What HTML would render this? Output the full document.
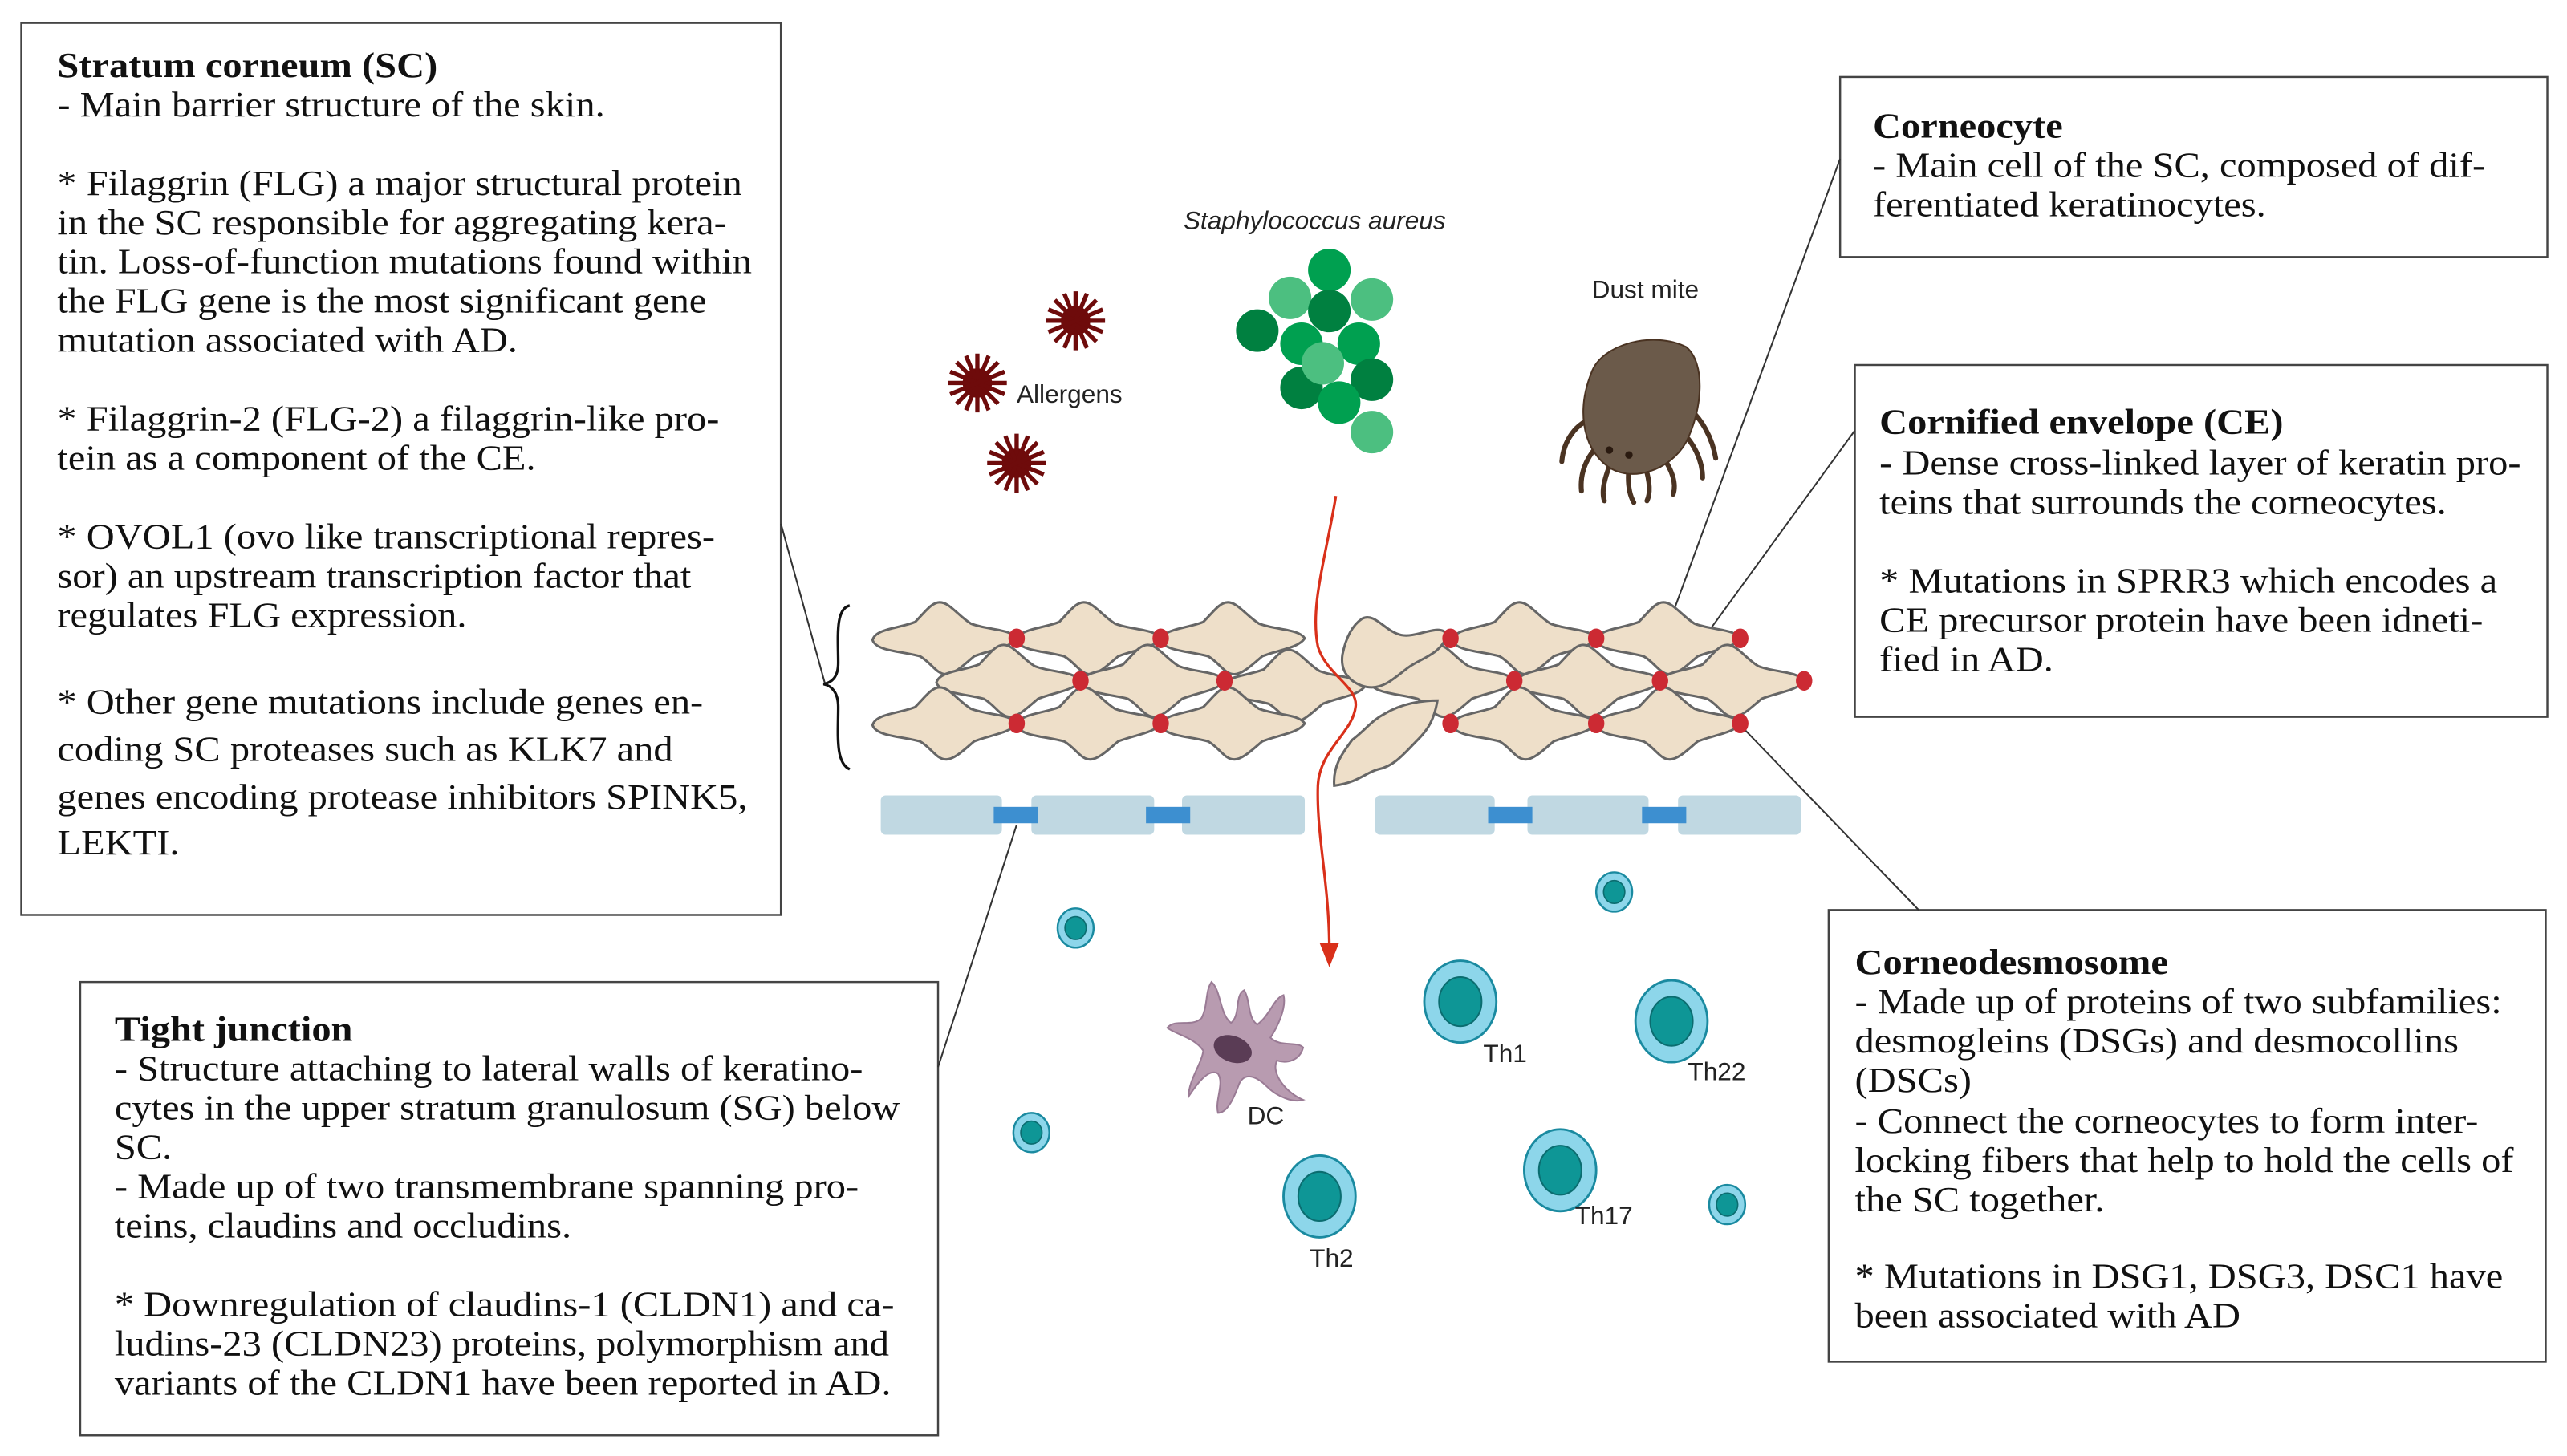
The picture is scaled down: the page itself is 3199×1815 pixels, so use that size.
<!DOCTYPE html>
<html><head><meta charset="utf-8"><style>
html,body{margin:0;padding:0;background:#fff}
svg{display:block}
.t{font-family:"Liberation Serif",serif;font-size:22px;fill:#111}
.b{font-weight:bold}
.s{font-family:"Liberation Sans",sans-serif;font-size:15.5px;fill:#222}
</style></head><body>
<svg width="3199" height="1815" viewBox="0 0 1568 889.6" xmlns="http://www.w3.org/2000/svg">
<defs>
<path id="cell" d="M-44,1 C-42,-6 -28,-6 -18,-10 C-12,-16 -8,-22 -3,-22 C3,-22 8,-14 16,-9 C26,-5 40,-6 44,0 C40,6 28,7 18,11 C12,16 6,22 1,22 C-5,22 -8,15 -15,11 C-25,8 -42,8 -44,1Z" fill="#eedfc9" stroke="#666" stroke-width="1.5"/>
<g id="star"><circle r="9" fill="#6e0b0b"/>
<g stroke="#6e0b0b" stroke-width="2.6"><line x1="-18" y1="0" x2="18" y2="0"/><line x1="0" y1="-18" x2="0" y2="18"/><line x1="-12.7" y1="-12.7" x2="12.7" y2="12.7"/><line x1="-12.7" y1="12.7" x2="12.7" y2="-12.7"/><line x1="-6.9" y1="-16.6" x2="6.9" y2="16.6"/><line x1="6.9" y1="-16.6" x2="-6.9" y2="16.6"/><line x1="-16.6" y1="-6.9" x2="16.6" y2="6.9"/><line x1="-16.6" y1="6.9" x2="16.6" y2="-6.9"/></g></g>
<g id="dot"><ellipse rx="5" ry="6" fill="#cc2a33"/></g>
<g id="sm"><ellipse rx="11" ry="12" fill="#8dd6ea" stroke="#1a8aa0" stroke-width="1.2"/><ellipse rx="6.5" ry="7" fill="#0e9696" stroke="#0b6d70" stroke-width="0.8"/></g>
<g id="lg"><ellipse rx="22" ry="25" fill="#8dd6ea" stroke="#1a8aa0" stroke-width="1.4"/><ellipse rx="13" ry="15" fill="#0e9696" stroke="#0b6d70" stroke-width="1"/></g>
</defs>

<g fill="#fff" stroke="#444" stroke-width="1.2">
<rect x="13" y="14" width="464" height="545"/>
<rect x="49" y="600" width="524" height="277"/>
<rect x="1124" y="47" width="432" height="110"/>
<rect x="1133" y="223" width="423" height="215"/>
<rect x="1117" y="556" width="438" height="276"/>
</g>

<g stroke="#333" stroke-width="1" fill="none">
<line x1="477" y1="320" x2="504" y2="418"/>
<line x1="573" y1="652" x2="621" y2="504"/>
<line x1="1124" y1="97" x2="1018" y2="385"/>
<line x1="1133" y1="263" x2="1045" y2="384"/>
<line x1="1172" y1="556" x2="1063" y2="443"/>
<path d="M519,370 C510,372 512,390 512,405 C512,414 508,417 503,418 C508,419 512,423 512,432 C512,448 510,466 519,470" stroke="#111" stroke-width="1.6"/>
</g>

<g fill="#c0d8e2">
<rect x="538" y="486" width="74" height="24" rx="3"/><rect x="630" y="486" width="75" height="24" rx="3"/><rect x="722" y="486" width="75" height="24" rx="3"/>
<rect x="840" y="486" width="73" height="24" rx="3"/><rect x="933" y="486" width="74" height="24" rx="3"/><rect x="1025" y="486" width="75" height="24" rx="3"/>
</g>
<g fill="#3d8fd0">
<rect x="607" y="493" width="27" height="10"/><rect x="700" y="493" width="27" height="10"/>
<rect x="909" y="493" width="27" height="10"/><rect x="1003" y="493" width="27" height="10"/>
</g>

<use href="#cell" x="577" y="390"/><use href="#cell" x="665" y="390"/><use href="#cell" x="753" y="390"/>
<use href="#cell" x="616" y="416"/><use href="#cell" x="704" y="416"/><use href="#cell" x="790" y="419"/>
<use href="#cell" x="577" y="442"/><use href="#cell" x="665" y="442"/><use href="#cell" x="753" y="442"/>
<use href="#cell" x="931" y="390"/><use href="#cell" x="1019" y="390"/>
<use href="#cell" x="881" y="416"/><use href="#cell" x="970" y="416"/><use href="#cell" x="1058" y="416"/>
<use href="#cell" x="931" y="442"/><use href="#cell" x="1019" y="442"/>
<path d="M820,400 C822,390 826,382 832,378 C840,374 846,386 856,388 C866,390 880,380 884,388 C880,400 868,402 860,408 C852,414 846,420 838,420 C830,420 818,414 820,400Z" fill="#eedfc9" stroke="#666" stroke-width="1.5"/>
<path d="M815,480 C814,468 820,460 826,452 C834,446 838,440 846,436 C856,430 868,428 878,428 C876,440 872,446 866,452 C858,460 852,468 842,470 C834,472 830,478 815,480Z" fill="#eedfc9" stroke="#666" stroke-width="1.5"/>
<use href="#dot" x="621" y="390"/><use href="#dot" x="709" y="390"/>
<use href="#dot" x="660" y="416"/><use href="#dot" x="748" y="416"/>
<use href="#dot" x="621" y="442"/><use href="#dot" x="709" y="442"/>
<use href="#dot" x="886" y="390"/><use href="#dot" x="975" y="390"/><use href="#dot" x="1063" y="390"/>
<use href="#dot" x="925" y="416"/><use href="#dot" x="1014" y="416"/><use href="#dot" x="1102" y="416"/>
<use href="#dot" x="886" y="442"/><use href="#dot" x="975" y="442"/><use href="#dot" x="1063" y="442"/>

<path d="M816,303 C810,340 800,370 805,395 C810,412 830,420 828,432 C826,448 806,458 805,480 C804,510 812,540 812,580" fill="none" stroke="#d9301a" stroke-width="1.6"/>
<polygon points="806,576 818,576 812,591" fill="#d9301a"/>

<use href="#star" x="657" y="196"/><use href="#star" x="597" y="234"/><use href="#star" x="621" y="283"/>
<text class="s" x="621" y="246">Allergens</text>

<text class="s" x="803" y="140" text-anchor="middle" font-style="italic">Staphylococcus aureus</text>
<g>
<circle cx="812" cy="165" r="13" fill="#00a050"/>
<circle cx="788" cy="182" r="13" fill="#4cbf80"/>
<circle cx="838" cy="183" r="13" fill="#4cbf80"/>
<circle cx="812" cy="190" r="13" fill="#008040"/>
<circle cx="768" cy="202" r="13" fill="#008040"/>
<circle cx="795" cy="210" r="13" fill="#00a050"/>
<circle cx="830" cy="210" r="13" fill="#00a050"/>
<circle cx="838" cy="232" r="13" fill="#008040"/>
<circle cx="795" cy="237" r="13" fill="#008040"/>
<circle cx="808" cy="222" r="13" fill="#4cbf80"/>
<circle cx="818" cy="246" r="13" fill="#00a050"/>
<circle cx="838" cy="264" r="13" fill="#4cbf80"/>
</g>

<text class="s" x="1005" y="182" text-anchor="middle">Dust mite</text>
<g stroke="#4a3322" stroke-width="3" fill="none" stroke-linecap="round">
<path d="M975,255 C962,258 955,270 954,282"/><path d="M978,270 C968,280 965,290 966,300"/>
<path d="M985,280 C980,292 978,300 980,306"/><path d="M995,285 C994,295 995,302 998,307"/>
<path d="M1005,285 C1008,295 1008,302 1006,306"/><path d="M1015,278 C1022,288 1024,296 1022,302"/>
<path d="M1025,262 C1035,270 1040,282 1040,292"/><path d="M1030,248 C1040,256 1046,268 1048,280"/>
</g>
<path d="M972,228 C978,210 1010,202 1030,212 C1042,222 1040,250 1030,270 C1020,288 996,295 982,285 C965,272 964,248 972,228Z" fill="#6b5a4a" stroke="#4a3322" stroke-width="1"/>
<circle cx="983" cy="275" r="2.3" fill="#2a1a10"/><circle cx="995" cy="278" r="2.3" fill="#2a1a10"/>

<use href="#sm" x="657" y="567"/><use href="#sm" x="986" y="545"/><use href="#sm" x="630" y="692"/><use href="#sm" x="1055" y="736"/>
<use href="#lg" x="892" y="612"/><use href="#lg" x="1021" y="624"/><use href="#lg" x="806" y="731"/><use href="#lg" x="953" y="715"/>
<text class="s" x="906" y="649">Th1</text>
<text class="s" x="1031" y="660">Th22</text>
<text class="s" x="800" y="774">Th2</text>
<text class="s" x="962" y="748">Th17</text>
<text class="s" x="762" y="687">DC</text>
<path d="M740,600 C746,605 745,620 752,625 C758,620 754,608 760,605 C764,612 762,622 768,626 C776,620 778,610 784,608 C786,616 780,628 776,634 C782,640 792,636 796,640 C794,648 786,650 780,648 C776,656 786,668 796,672 C790,674 780,670 774,664 C766,656 760,656 757,662 C754,670 750,680 744,680 C742,672 748,662 744,656 C738,652 730,664 726,670 C726,660 734,650 735,642 C730,634 718,632 713,628 C718,622 728,628 734,622 C738,614 736,606 740,600Z" fill="#b89bb0" stroke="#9a7b95" stroke-width="1"/>
<ellipse cx="753" cy="641" rx="12" ry="8" transform="rotate(20 753 641)" fill="#5a3c55"/>

<g transform="translate(35,0) scale(1.08,1)">
<text class="t b" x="0" y="47">Stratum corneum (SC)</text>
<text class="t" x="0" y="71">- Main barrier structure of the skin.</text>
<text class="t" x="0" y="119">* Filaggrin (FLG) a major structural protein</text>
<text class="t" x="0" y="143">in the SC responsible for aggregating kera-</text>
<text class="t" x="0" y="167">tin. Loss-of-function mutations found within</text>
<text class="t" x="0" y="191">the FLG gene is the most significant gene</text>
<text class="t" x="0" y="215">mutation associated with AD.</text>
<text class="t" x="0" y="263">* Filaggrin-2 (FLG-2) a filaggrin-like pro-</text>
<text class="t" x="0" y="287">tein as a component of the CE.</text>
<text class="t" x="0" y="335">* OVOL1 (ovo like transcriptional repres-</text>
<text class="t" x="0" y="359">sor) an upstream transcription factor that</text>
<text class="t" x="0" y="383">regulates FLG expression.</text>
<text class="t" x="0" y="436">* Other gene mutations include genes en-</text>
<text class="t" x="0" y="465">coding SC proteases such as KLK7 and</text>
<text class="t" x="0" y="494">genes encoding protease inhibitors SPINK5,</text>
<text class="t" x="0" y="522">LEKTI.</text>
</g>
<g transform="translate(70,0) scale(1.08,1)">
<text class="t b" x="0" y="636">Tight junction</text>
<text class="t" x="0" y="660">- Structure attaching to lateral walls of keratino-</text>
<text class="t" x="0" y="684">cytes in the upper stratum granulosum (SG) below</text>
<text class="t" x="0" y="708">SC.</text>
<text class="t" x="0" y="732">- Made up of two transmembrane spanning pro-</text>
<text class="t" x="0" y="756">teins, claudins and occludins.</text>
<text class="t" x="0" y="804">* Downregulation of claudins-1 (CLDN1) and ca-</text>
<text class="t" x="0" y="828">ludins-23 (CLDN23) proteins, polymorphism and</text>
<text class="t" x="0" y="852">variants of the CLDN1 have been reported in AD.</text>
</g>
<g transform="translate(1144,0) scale(1.08,1)">
<text class="t b" x="0" y="84">Corneocyte</text>
<text class="t" x="0" y="108">- Main cell of the SC, composed of dif-</text>
<text class="t" x="0" y="132">ferentiated keratinocytes.</text>
</g>
<g transform="translate(1148,0) scale(1.08,1)">
<text class="t b" x="0" y="265">Cornified envelope (CE)</text>
<text class="t" x="0" y="290">- Dense cross-linked layer of keratin pro-</text>
<text class="t" x="0" y="314">teins that surrounds the corneocytes.</text>
<text class="t" x="0" y="362">* Mutations in SPRR3 which encodes a</text>
<text class="t" x="0" y="386">CE  precursor protein have been idneti-</text>
<text class="t" x="0" y="410">fied in AD.</text>
</g>
<g transform="translate(1133,0) scale(1.08,1)">
<text class="t b" x="0" y="595">Corneodesmosome</text>
<text class="t" x="0" y="619">- Made up of proteins of two subfamilies:</text>
<text class="t" x="0" y="643">desmogleins (DSGs) and desmocollins</text>
<text class="t" x="0" y="667">(DSCs)</text>
<text class="t" x="0" y="692">- Connect the corneocytes to form inter-</text>
<text class="t" x="0" y="716">locking fibers that help to hold the cells of</text>
<text class="t" x="0" y="740">the SC together.</text>
<text class="t" x="0" y="787">* Mutations in DSG1, DSG3, DSC1 have</text>
<text class="t" x="0" y="811">been associated with AD</text>
</g>
</svg>
</body></html>
